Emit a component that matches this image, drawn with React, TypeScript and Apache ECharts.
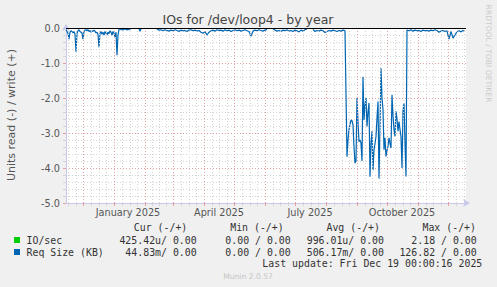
import React, { useEffect, useRef } from 'react';
import * as echarts from 'echarts';

// Day 0 = 14 Nov 2024, day 400 = 19 Dec 2025 (one day per pixel)
const monthStartDays = [-13, 17, 48, 79, 107, 138, 168, 199, 229, 260, 291, 321, 352, 382];
const monthLengths = [30, 31, 31, 28, 31, 30, 31, 30, 31, 31, 30, 31, 30, 31];
const xLabelDays = [62, 153, 244, 336];
const xLabels = ['January 2025', 'April 2025', 'July 2025', 'October 2025'];

// Req Size (KB), read side (drawn negative)
const readEarly = [
  -0.05, -0.1, -0.15, -0.32, -0.12, -0.08, -0.1, -0.14, -0.1, -0.18,
  -0.68, -0.15, -0.08, -0.05, -0.1, -0.12, -0.14, -0.32, -0.1, -0.06,
  -0.05, -0.08, -0.05, -0.1, -0.07, -0.12, -0.08, -0.1, -0.06, -0.09,
  -0.14, -0.12, -0.18, -0.55, -0.15, -0.1, -0.18, -0.12, -0.2, -0.1,
  -0.15, -0.2, -0.12, -0.16, -0.08, -0.12, -0.2, -0.1, -0.15, -0.25,
  -0.12, -0.78, -0.2, -0.04, -0.02, -0.05, -0.02, -0.06, -0.02, -0.04,
  -0.03, -0.06, -0.02, -0.05, -0.03, -0.02,
];
const readBlip = [-0.02, -0.09, -0.02];
const readMid = [
  -0.03, -0.06, -0.05, -0.08, -0.05, -0.07, -0.09, -0.06, -0.08, -0.05,
  -0.07, -0.1, -0.06, -0.08, -0.07, -0.1, -0.06, -0.05, -0.08, -0.06,
  -0.09, -0.07, -0.12, -0.15, -0.1, -0.2, -0.12, -0.08, -0.06, -0.09,
  -0.05, -0.07, -0.06, -0.09, -0.05, -0.08, -0.06, -0.1, -0.07, -0.05,
  -0.08, -0.06, -0.09, -0.07, -0.05, -0.08, -0.1, -0.23, -0.09, -0.06,
  -0.08, -0.05, -0.07, -0.09, -0.06, -0.04, null, null, -0.02, -0.06,
  -0.09, -0.07, -0.1, -0.06, -0.08, -0.05, -0.09, -0.07, -0.1, -0.06,
  -0.08, -0.11, -0.06, -0.09, -0.05, -0.03, null, null, -0.04, -0.1,
  -0.07, -0.09, -0.06, -0.08, -0.13, -0.1, -0.07, -0.09, -0.06, -0.08,
  -0.1, -0.07, -0.09, -0.06, -0.08,
];
const readBurst = [
  -3.68, -3.2, -2.91, -2.75, -2.63, -2.65, -2.77, -3.4, -3.86, -3.8,
  -2.0, -2.7, -3.25, -3.2, -3.29, -3.8, -1.39, -2.63, -2.2, -2.0,
  -2.81, -2.4, -2.14, -4.25, -3.3, -2.95, -4.06, -3.48, -3.3, -3.1,
  -2.57, -2.1, -4.3, -2.85, -1.15, -2.0, -2.33, -3.48, -3.14, -3.67,
  -3.5, -3.38, -3.14, -3.3, -3.43, -1.91, -2.5, -2.91, -3.1, -2.38,
  -2.6, -2.95, -2.67, -2.9, -3.1, -4.0, -2.38, -2.15, -3.3, -4.24,
];
const readLate = [
  -0.06, -0.08, -0.05, -0.09, -0.06, -0.08, -0.07, -0.1, -0.06, -0.08,
  -0.07, -0.09, -0.06, -0.08, -0.05, -0.07, -0.12, -0.09, -0.07, -0.1,
  -0.08, -0.32, -0.1, -0.29, -0.2, -0.1, -0.08, -0.11, -0.07, -0.1,
];

const segments = [
  { start: 0, step: 1, values: readEarly, breakBefore: false },
  { start: 73, step: 1, values: readBlip, breakBefore: true },
  { start: 91, step: 2, values: readMid, breakBefore: true },
  { start: 281, step: 1, values: readBurst, breakBefore: false },
  { start: 341, step: 2, values: readLate, breakBefore: false },
];

const legendHeaders = ['Cur (-/+)', 'Min (-/+)', 'Avg (-/+)', 'Max (-/+)'];
const ioSecValues = ['425.42u/ 0.00', '0.00 / 0.00', '996.01u/ 0.00', '2.18 / 0.00'];
const reqSizeValues = ['44.83m/ 0.00', '0.00 / 0.00', '506.17m/ 0.00', '126.82 / 0.00'];

const AXIS = '#C6C8EE';
const RED = '#E6A0A0';
const GRAY = '#D4D4D4';
const SANS = 'DejaVu Sans';
const MONO = 'DejaVu Sans Mono';

function buildData() {
  const out: any[] = [];
  segments.forEach((seg) => {
    if (seg.breakBefore && out.length) out.push([seg.start - 1, '-']);
    seg.values.forEach((v, i) => out.push([seg.start + i * seg.step, v === null ? '-' : v]));
  });
  return out;
}

export default function App() {
  const ref = useRef<HTMLDivElement>(null);
  useEffect(() => {
    const chart = echarts.init(ref.current!, null, { renderer: 'svg' });

    const majors = monthStartDays.filter((d) => d > 0 && d < 400);
    const minors: number[] = [];
    monthStartDays.forEach((m, i) => {
      const L = monthLengths[i];
      [Math.round(L / 4), Math.round(L / 2), Math.round((3 * L) / 4)].forEach((o) => {
        const d = m + o;
        if (d > 0 && d < 400) minors.push(d);
      });
    });

    const colX = [196.7, 290.7, 384, 476.7];
    const headX = [187.3, 283.7, 380, 476];
    const graphic: any[] = [
      { type: 'text', x: 248, y: 19, style: { text: 'IOs for /dev/loop4 - by year', fill: '#444', fontSize: 12.5, fontFamily: SANS, textAlign: 'center', textVerticalAlign: 'middle' } },
      { type: 'text', x: 11, y: 115, rotation: Math.PI / 2, style: { text: 'Units read (-) / write (+)', fill: '#555', fontSize: 11, fontFamily: SANS, textAlign: 'center', textVerticalAlign: 'middle' } },
      { type: 'text', x: 488, y: 53.5, rotation: -Math.PI / 2, style: { text: 'RRDTOOL / TOBI OETIKER', fill: '#CCCCCC', fontSize: 7.6, fontFamily: SANS, textAlign: 'center', textVerticalAlign: 'middle' } },
      { type: 'rect', shape: { x: 14, y: 237, width: 6, height: 6 }, style: { fill: '#00CC00' } },
      { type: 'rect', shape: { x: 14, y: 249, width: 6, height: 6 }, style: { fill: '#0066B3' } },
      { type: 'text', x: 26.5, y: 240, style: { text: 'IO/sec', fill: '#333', fontSize: 9.9, fontFamily: MONO, textAlign: 'left', textVerticalAlign: 'middle' } },
      { type: 'text', x: 26.5, y: 252, style: { text: 'Req Size (KB)', fill: '#333', fontSize: 9.9, fontFamily: MONO, textAlign: 'left', textVerticalAlign: 'middle' } },
      { type: 'text', x: 482.3, y: 263.5, style: { text: 'Last update: Fri Dec 19 00:00:16 2025', fill: '#333', fontSize: 9.9, fontFamily: MONO, textAlign: 'right', textVerticalAlign: 'middle' } },
      { type: 'text', x: 248, y: 276.3, style: { text: 'Munin 2.0.57', fill: '#C4C4C4', fontSize: 7.6, fontFamily: SANS, textAlign: 'center', textVerticalAlign: 'middle' } },
    ];
    legendHeaders.forEach((t, i) => graphic.push({ type: 'text', x: headX[i], y: 227.3, style: { text: t, fill: '#333', fontSize: 9.9, fontFamily: MONO, textAlign: 'right', textVerticalAlign: 'middle' } }));
    ioSecValues.forEach((t, i) => graphic.push({ type: 'text', x: colX[i], y: 240, style: { text: t, fill: '#333', fontSize: 9.9, fontFamily: MONO, textAlign: 'right', textVerticalAlign: 'middle' } }));
    reqSizeValues.forEach((t, i) => graphic.push({ type: 'text', x: colX[i], y: 252, style: { text: t, fill: '#333', fontSize: 9.9, fontFamily: MONO, textAlign: 'right', textVerticalAlign: 'middle' } }));

    const option: any = {
      animation: false,
      backgroundColor: '#F0F0F0',
      grid: { left: 66, top: 28, width: 400, height: 175, show: true, backgroundColor: '#FFFFFF', borderWidth: 0 },
      xAxis: [
        {
          type: 'value', min: 0, max: 400, position: 'bottom',
          axisLine: { show: true, onZero: false, lineStyle: { color: AXIS, width: 1 }, symbol: ['none', 'arrow'], symbolSize: [6, 7], symbolOffset: [0, 4] },
          axisTick: { show: true, customValues: majors, length: 3, lineStyle: { color: RED } },
          axisLabel: { show: true, customValues: xLabelDays, formatter: (v: number) => { const i = xLabelDays.indexOf(Math.round(v)); return i >= 0 ? xLabels[i] : ''; }, color: '#555', fontSize: 9.7, fontFamily: SANS, margin: 4 },
          splitLine: { show: false },
        },
        {
          type: 'value', min: 0, max: 400, position: 'bottom',
          axisLine: { show: false, onZero: false },
          axisTick: { show: true, customValues: minors, length: 3, lineStyle: { color: GRAY } },
          axisLabel: { show: false },
          splitLine: { show: false },
        },
      ],
      yAxis: [
        {
          type: 'value', min: -5, max: 0, interval: 0.2, position: 'left',
          axisLine: { show: false, onZero: false },
          axisTick: { show: true, length: 3, lineStyle: { color: GRAY } },
          axisLabel: { show: false },
          splitLine: { show: true, showMinLine: false, lineStyle: { color: GRAY, type: [1, 2], width: 1 } },
        },
        {
          type: 'value', min: -5, max: 0, interval: 1, position: 'left',
          axisLine: { show: true, onZero: false, lineStyle: { color: AXIS, width: 1 }, symbol: ['none', 'arrow'], symbolSize: [6, 7], symbolOffset: [0, 4] },
          axisTick: { show: true, length: 3, lineStyle: { color: RED } },
          axisLabel: { formatter: (v: number) => v.toFixed(1), color: '#555', fontSize: 9.7, fontFamily: SANS, margin: 6 },
          splitLine: { show: true, showMinLine: false, lineStyle: { color: RED, type: [1, 2], width: 1 } },
        },
      ],
      series: [
        {
          type: 'line', xAxisIndex: 0, yAxisIndex: 0, data: [], z: 1, silent: true,
          markLine: {
            silent: true, symbol: ['none', 'none'], label: { show: false },
            data: [
              ...minors.map((d) => ({ xAxis: d, lineStyle: { color: GRAY, type: [1, 2], width: 1 } })),
              ...majors.map((d) => ({ xAxis: d, lineStyle: { color: RED, type: [1, 2], width: 1 } })),
            ],
          },
        },
        {
          name: 'Req Size (KB)', type: 'line', xAxisIndex: 0, yAxisIndex: 0, z: 3,
          data: buildData(), showSymbol: false, connectNulls: false,
          lineStyle: { color: '#0066B3', width: 1.2 },
        },
        {
          type: 'line', xAxisIndex: 0, yAxisIndex: 0, data: [], z: 4, silent: true,
          markLine: {
            silent: true, symbol: ['none', 'none'], label: { show: false },
            data: [{ yAxis: 0, lineStyle: { color: '#000000', type: 'solid', width: 1 } }],
          },
        },
      ],
      graphic,
    };
    chart.setOption(option);
    return () => chart.dispose();
  }, []);
  return <div ref={ref} style={{ position: 'fixed', left: 0, top: 0, width: 497, height: 287 }} />;
}
